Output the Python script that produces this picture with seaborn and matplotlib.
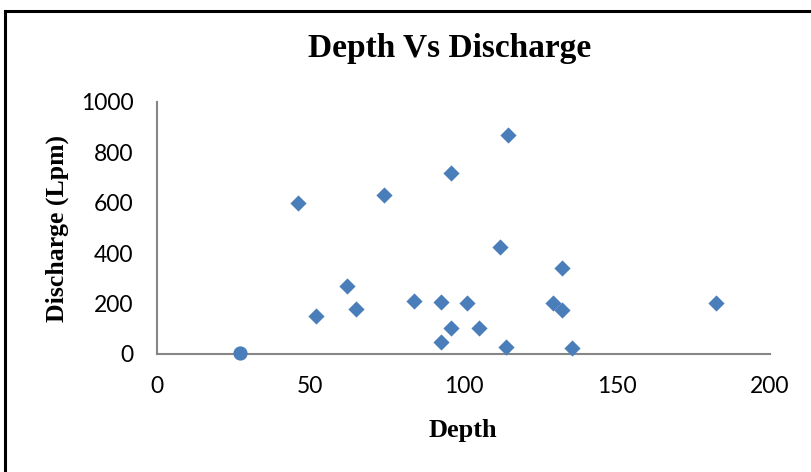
import matplotlib
matplotlib.use("Agg")
import matplotlib.pyplot as plt
import seaborn as sns
import pandas as pd
from matplotlib.patches import Rectangle

# Data
depth = [46, 52, 62, 65, 74, 84, 92.5, 92.5, 96, 96, 101, 105, 112, 114, 114.5, 129.3, 132.2, 132.2, 135.3, 182.4]
discharge = [600, 150, 270, 180, 630, 210, 207, 47, 105, 720, 203, 105, 426, 28, 871, 204, 176, 340, 24, 203]
extra_depth = [27]
extra_discharge = [5]

x_ticks = [0, 50, 100, 150, 200]
y_ticks = [0, 200, 400, 600, 800, 1000]

title = "Depth Vs Discharge"
x_label = "Depth"
y_label = "Discharge (Lpm)"

color = "#4A7EBB"

sns.set_style("white")
plt.rcParams["font.family"] = ["Lato", "DejaVu Sans"]
plt.rcParams["text.color"] = "black"

W, H = 812, 472
fig = plt.figure(figsize=(W / 100, H / 100), dpi=100)
ax = fig.add_axes([157 / W, 1 - 354 / H, (770 - 157) / W, (354 - 102) / H])

df = pd.DataFrame({"Depth": depth, "Discharge": discharge})
df2 = pd.DataFrame({"Depth": extra_depth, "Discharge": extra_discharge})

sns.scatterplot(data=df, x="Depth", y="Discharge", marker="D", s=68, color=color,
                linewidth=0, ax=ax, clip_on=False, zorder=3)
sns.scatterplot(data=df2, x="Depth", y="Discharge", marker="o", s=105, color=color,
                linewidth=0, ax=ax, clip_on=False, zorder=3)

ax.set_xlim(0, 200)
ax.set_ylim(0, 1000)
ax.set_xticks(x_ticks)
ax.set_yticks(y_ticks)
ax.set_xticklabels([str(t) for t in x_ticks])
ax.set_yticklabels([str(t) for t in y_ticks])
ax.tick_params(axis="both", length=0, labelsize=16.5, colors="black")
ax.tick_params(axis="x", pad=16)
ax.tick_params(axis="y", pad=17)

for s in ["top", "right"]:
    ax.spines[s].set_visible(False)
for s in ["left", "bottom"]:
    ax.spines[s].set_color("#868686")
    ax.spines[s].set_linewidth(1.5)

ax.set_xlabel("")
ax.set_ylabel("")

serif = ["Liberation Serif", "DejaVu Serif"]
fig.text(450 / W, 1 - 48 / H, title, ha="center", va="center", fontsize=24,
         fontweight="bold", family=serif, color="black")
fig.text(463 / W, 1 - 430 / H, x_label, ha="center", va="center", fontsize=19,
         fontweight="bold", family=serif, color="black")
fig.text(57 / W, 1 - 228 / H, y_label, ha="center", va="center", fontsize=18.5,
         fontweight="bold", family=serif, rotation=90, color="black")

# Outer chart border (left and top visible)
fig.patches.append(Rectangle((5 / W, -0.2), 1.2, 1 - 11 / H + 0.2, transform=fig.transFigure,
                             fill=False, edgecolor="black", linewidth=2.2, figure=fig))

fig.savefig("out.png", dpi=100)
